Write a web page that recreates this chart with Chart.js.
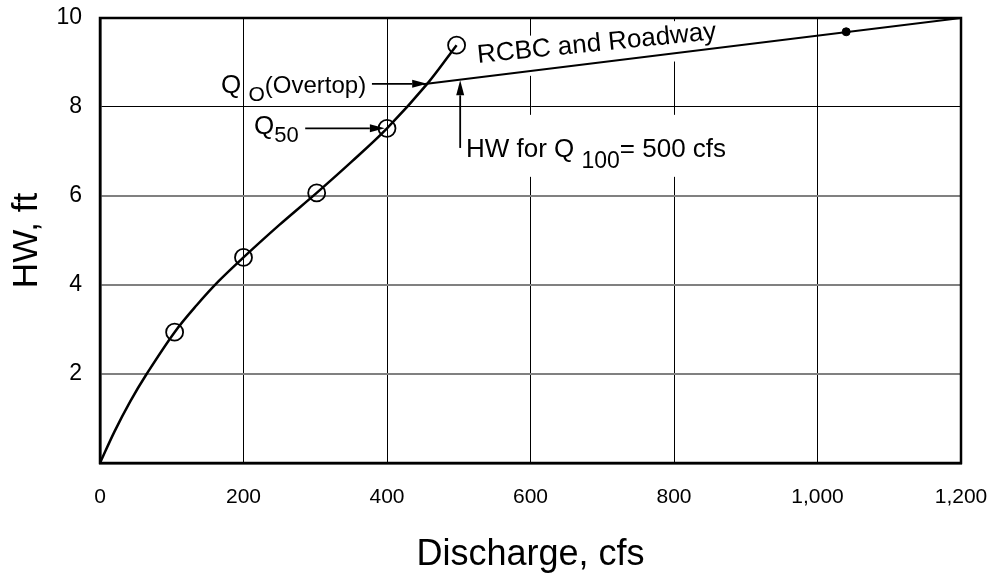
<!DOCTYPE html>
<html>
<head>
<meta charset="utf-8">
<script src="https://cdn.jsdelivr.net/npm/chart.js@4/dist/chart.umd.min.js"></script>
<style>
  html, body { margin: 0; padding: 0; background: #fff; }
  #wrap { width: 990px; height: 581px; }
</style>
</head>
<body>
<div id="wrap"><canvas id="hwChart"></canvas></div>
<script>
// headwater rating curve
const curveQ  = [0, 20, 42, 65, 104, 135, 165, 200, 250, 302, 350, 400, 456, 497];
const curveHW = [0, 0.7, 1.38, 2.0, 2.94, 3.55, 4.08, 4.62, 5.35, 6.07, 6.76, 7.52, 8.52, 9.39];
// computed points (open circles)
const pointQ  = [104, 200, 302, 400, 497];
const pointHW = [2.94, 4.62, 6.07, 7.52, 9.39];
// RCBC and roadway (overtopping)
const roadQ  = [450, 1200];
const roadHW = [8.51, 10];
const dotQ  = [1040];
const dotHW = [9.69];

const xTicks = [0, 200, 400, 600, 800, 1000, 1200];
const yTicks = [2, 4, 6, 8, 10];

const FONT = "'Liberation Sans', Arial, sans-serif";

const zip = (xs, ys) => xs.map((x, i) => ({ x: x, y: ys[i] }));

// annotation anchors (data units)
const arrows = [
  { from: [379, 8.52], to: [456, 8.52] },   // Q_O
  { from: [286, 7.52], to: [397, 7.52] },   // Q50
  { from: [502, 7.08], to: [502, 8.60] }    // HW for Q100
];

function arrow(ctx, x1, y1, x2, y2) {
  const a = Math.atan2(y2 - y1, x2 - x1);
  const len = 15, hw = 4;
  ctx.beginPath();
  ctx.moveTo(x1, y1);
  ctx.lineTo(x2 - Math.cos(a) * len, y2 - Math.sin(a) * len);
  ctx.lineWidth = 1.8;
  ctx.stroke();
  ctx.beginPath();
  ctx.moveTo(x2, y2);
  ctx.lineTo(x2 - Math.cos(a) * len - Math.sin(a) * hw, y2 - Math.sin(a) * len + Math.cos(a) * hw);
  ctx.lineTo(x2 - Math.cos(a) * len + Math.sin(a) * hw, y2 - Math.sin(a) * len - Math.cos(a) * hw);
  ctx.closePath();
  ctx.fill();
}

// text made of parts with sub-scripts
function richWidth(ctx, parts) {
  let w = 0;
  parts.forEach(p => { ctx.font = p.size + 'px ' + FONT; w += ctx.measureText(p.t).width; });
  return w;
}
function drawRich(ctx, parts, x, y) {
  ctx.textAlign = 'left';
  ctx.textBaseline = 'alphabetic';
  parts.forEach(p => {
    ctx.font = p.size + 'px ' + FONT;
    ctx.fillText(p.t, x, y + (p.dy || 0));
    x += ctx.measureText(p.t).width;
  });
}

const labelQo  = [{ t: 'Q ', size: 26 }, { t: 'O', size: 21, dy: 8 }, { t: '(Overtop)', size: 24 }];
const labelQ50 = [{ t: 'Q', size: 26 }, { t: '50', size: 22, dy: 8 }];
const labelHW  = [{ t: 'HW for Q ', size: 26 }, { t: '100', size: 23, dy: 11 }, { t: '= 500 cfs', size: 26 }];
const labelRoad = 'RCBC and Roadway';
const roadSize = 26;
const roadAngle = -5.7 * Math.PI / 180;

const notes = {
  id: 'notes',
  beforeDatasetsDraw(chart) {
    // white boxes behind labels break the grid lines, as in the figure
    const { ctx, scales: { x, y } } = chart;
    ctx.save();
    ctx.fillStyle = '#fff';
    const hx = x.getPixelForValue(510), hy = y.getPixelForValue(6.88);
    ctx.fillRect(hx - 5, hy - 42, richWidth(ctx, labelHW) + 10, 62);
    const rx = x.getPixelForValue(527), ry = y.getPixelForValue(8.99);
    ctx.translate(rx, ry);
    ctx.rotate(roadAngle);
    ctx.font = roadSize + 'px ' + FONT;
    ctx.fillRect(-4, -22, ctx.measureText(labelRoad).width + 8, 40);
    ctx.restore();
  },
  afterDatasetsDraw(chart) {
    const { ctx, chartArea: ca, scales: { x, y } } = chart;
    ctx.save();
    ctx.strokeStyle = '#000';
    ctx.fillStyle = '#000';
    ctx.lineWidth = 2.5;
    ctx.strokeRect(ca.left, ca.top, ca.right - ca.left, ca.bottom - ca.top);

    arrows.forEach(a => arrow(ctx,
      x.getPixelForValue(a.from[0]), y.getPixelForValue(a.from[1]),
      x.getPixelForValue(a.to[0]), y.getPixelForValue(a.to[1])));

    let px = x.getPixelForValue(371) - richWidth(ctx, labelQo);
    drawRich(ctx, labelQo, px, y.getPixelForValue(8.31));
    px = x.getPixelForValue(277) - richWidth(ctx, labelQ50);
    drawRich(ctx, labelQ50, px, y.getPixelForValue(7.39));
    drawRich(ctx, labelHW, x.getPixelForValue(510), y.getPixelForValue(6.88));

    ctx.translate(x.getPixelForValue(527), y.getPixelForValue(8.99));
    ctx.rotate(roadAngle);
    ctx.font = roadSize + 'px ' + FONT;
    ctx.textAlign = 'left';
    ctx.textBaseline = 'alphabetic';
    ctx.fillText(labelRoad, 0, 0);
    ctx.restore();
  }
};

const noPad = s => { s.paddingTop = 0; s.paddingBottom = 0; s.paddingLeft = 0; s.paddingRight = 0; };

new Chart(document.getElementById('hwChart'), {
  type: 'scatter',
  data: {
    datasets: [
      {
        label: 'RCBC',
        data: zip(curveQ, curveHW),
        showLine: true,
        borderColor: '#000',
        borderWidth: 2.5,
        pointRadius: 0,
        tension: 0.35
      },
      {
        label: 'computed',
        data: zip(pointQ, pointHW),
        showLine: false,
        pointStyle: 'circle',
        pointRadius: 8.5,
        borderColor: '#000',
        borderWidth: 1.8,
        backgroundColor: 'rgba(0,0,0,0)'
      },
      {
        label: 'RCBC and Roadway',
        data: zip(roadQ, roadHW),
        showLine: true,
        borderColor: '#000',
        borderWidth: 2,
        pointRadius: 0
      },
      {
        label: 'dot',
        data: zip(dotQ, dotHW),
        pointRadius: 4,
        backgroundColor: '#000',
        borderColor: '#000'
      }
    ]
  },
  options: {
    responsive: true,
    maintainAspectRatio: false,
    animation: false,
    layout: { padding: { top: 18, right: 29, left: 0, bottom: 0 } },
    plugins: { legend: { display: false }, tooltip: { enabled: false } },
    scales: {
      x: {
        type: 'linear',
        min: 0,
        max: 1200,
        afterBuildTicks: s => { s.ticks = xTicks.map(v => ({ value: v })); },
        afterFit: s => { s.height = 118; noPad(s); },
        ticks: {
          padding: 22,
          color: '#000',
          font: { family: FONT, size: 21 },
          callback: v => v.toLocaleString('en-US')
        },
        grid: { color: '#000', lineWidth: 1, drawTicks: false },
        border: { color: '#000', width: 2.5 },
        title: {
          display: true,
          text: 'Discharge, cfs',
          color: '#000',
          font: { family: FONT, size: 36 },
          padding: { top: 0, bottom: 4 }
        }
      },
      y: {
        type: 'linear',
        min: 0,
        max: 10,
        afterBuildTicks: s => { s.ticks = yTicks.map(v => ({ value: v })); },
        afterFit: s => { s.width = 100; noPad(s); },
        ticks: {
          padding: 18,
          color: '#000',
          font: { family: FONT, size: 23 }
        },
        grid: {
          color: c => (c.tick && c.tick.value === 8 ? '#000' : '#808080'),
          lineWidth: c => (c.tick && c.tick.value === 8 ? 1 : 2),
          drawTicks: false
        },
        border: { color: '#000', width: 2.5 },
        title: {
          display: true,
          text: 'HW, ft',
          color: '#000',
          font: { family: FONT, size: 35 },
          padding: { top: 6, bottom: 0 }
        }
      }
    }
  },
  plugins: [notes]
});
</script>
</body>
</html>
